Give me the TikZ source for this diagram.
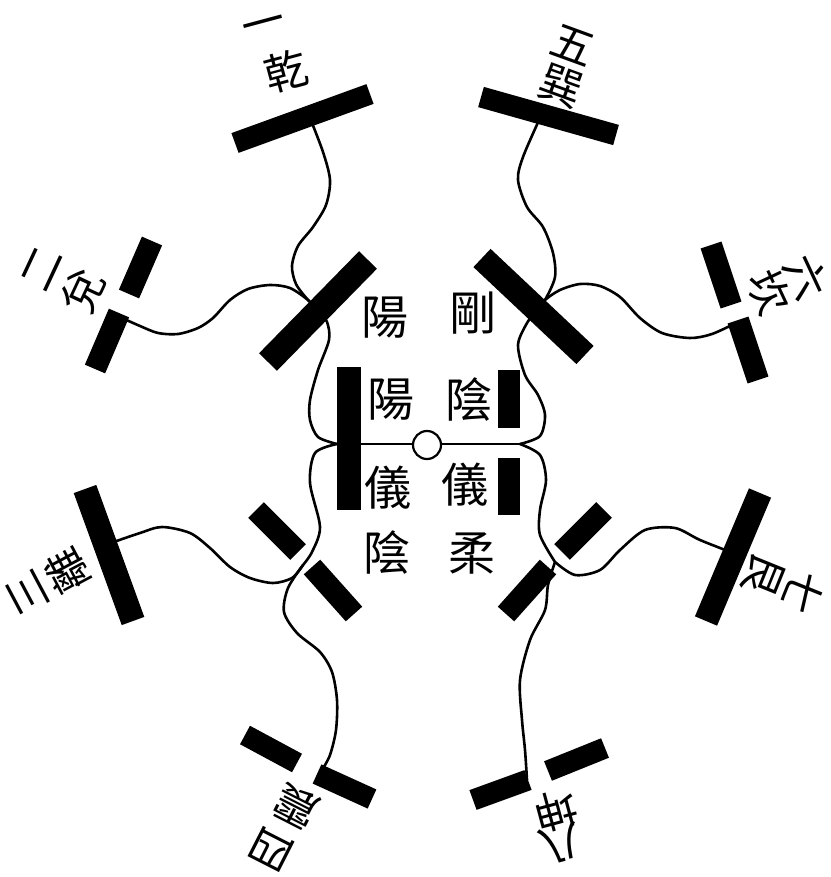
\documentclass[tikz,border=0pt]{standalone}
\usepackage{fontspec}
\newfontfamily\cjk{Noto Sans CJK TC}
\begin{document}
\begin{tikzpicture}[x=1pt,y=-1pt,
  bar/.style={line width=22pt},
  wire/.style={line width=2.6pt, line cap=round, line join=round},
  lab/.style={font=\cjk\fontsize{43}{43}\selectfont, inner sep=0pt},
  mid/.style={font=\cjk\fontsize{47}{47}\selectfont, inner sep=0pt}]
\useasboundingbox[fill=white] (0,0) rectangle (830,877);
% junctions
\coordinate (C) at (427,445);
\coordinate (JL) at (337,444);
\coordinate (JR) at (520,444);
\coordinate (KUL) at (318,310);
\coordinate (KUR) at (536,311);
\coordinate (KLL) at (303,565);
\coordinate (KLR) at (555,562);
\coordinate (TQ) at (310,118);
\coordinate (TX) at (540,118);
\coordinate (TD) at (122,318);
\coordinate (TK) at (738,322);
\coordinate (TL) at (108,544);
\coordinate (TG) at (733,553);
\coordinate (TZ) at (322,770);
\coordinate (TN) at (527,780);
% wires
\draw[wire] (JL) -- (JR);
\draw[wire] plot[smooth] coordinates {(JL) (318,437) (310,420) (310,400) (318,370) (329,340) (327,322) (KUL)};
\draw[wire] plot[smooth] coordinates {(KUL) (308,300) (296,284) (292,266) (298,246) (313,227) (326,205) (330,180) (323,152) (TQ)};
\draw[wire] plot[smooth] coordinates {(KUL) (308,300) (290,288) (270,285) (248,289) (230,300) (213,318) (198,328) (178,334) (158,333) (140,326) (TD)};
\draw[wire] plot[smooth] coordinates {(JL) (315,453) (310,483) (320,527) (312,552) (KLL)};
\draw[wire] plot[smooth] coordinates {(KLL) (292,578) (273,583) (250,578) (230,567) (210,548) (190,533) (162,527) (140,533) (TL)};
\draw[wire] plot[smooth] coordinates {(KLL) (288,588) (284,612) (297,633) (320,652) (332,672) (337,700) (336,730) (330,755) (TZ)};
\draw[wire] plot[smooth] coordinates {(JR) (540,436) (545,415) (538,395) (525,375) (518,345) (527,323) (KUR)};
\draw[wire] plot[smooth] coordinates {(KUR) (545,300) (555,277) (553,253) (543,227) (527,207) (518,180) (523,157) (TX)};
\draw[wire] plot[smooth] coordinates {(KUR) (545,300) (560,290) (580,284) (600,286) (620,297) (640,318) (662,333) (690,338) (712,334) (TK)};
\draw[wire] plot[smooth] coordinates {(JR) (540,455) (546,480) (540,510) (540,535) (KLR)};
\draw[wire] plot[smooth] coordinates {(KLR) (575,575) (600,570) (620,550) (645,530) (675,528) (700,540) (TG)};
\draw[wire] plot[smooth] coordinates {(KLR) (548,585) (545,610) (530,640) (520,680) (522,720) (525,750) (TN)};
% centre circle
\node[circle, draw, fill=white, line width=2.2pt, minimum size=28pt, inner sep=0pt] (O) at (C) {};
% central bars
\coordinate (A1) at (349,367); \coordinate (A2) at (349,510);
\draw[bar, line width=24pt] (A1) -- (A2);
\coordinate (B1) at (509,370); \coordinate (B2) at (509,428);
\coordinate (B3) at (509,458); \coordinate (B4) at (509,515);
\draw[bar] (B1) -- (B2); \draw[bar] (B3) -- (B4);
% second level
\coordinate (U1) at (268,362); \coordinate (U2) at (368,260);
\draw[bar, line width=25pt] (U1) -- (U2);
\coordinate (V1) at (482,258); \coordinate (V2) at (585,355);
\draw[bar, line width=25pt] (V1) -- (V2);
\coordinate (W1) at (256,510); \coordinate (W2) at (298,552);
\coordinate (W3) at (312,567); \coordinate (W4) at (354,614);
\draw[bar] (W1) -- (W2); \draw[bar] (W3) -- (W4);
\coordinate (X1) at (604,510); \coordinate (X2) at (562,552);
\coordinate (X3) at (548,567); \coordinate (X4) at (506,614);
\draw[bar] (X1) -- (X2); \draw[bar] (X3) -- (X4);
% outer bars
\coordinate (Q1) at (235,143); \coordinate (Q2) at (370,94);
\draw[bar, line width=21pt] (Q1) -- (Q2);
\coordinate (S1) at (481,97); \coordinate (S2) at (616,135);
\draw[bar, line width=21pt] (S1) -- (S2);
\coordinate (D1) at (152,241); \coordinate (D2) at (129,294);
\coordinate (D3) at (119,313); \coordinate (D4) at (95,369);
\draw[bar] (D1) -- (D2); \draw[bar] (D3) -- (D4);
\coordinate (K1) at (711,245); \coordinate (K2) at (731,305);
\coordinate (K3) at (738,320); \coordinate (K4) at (758,380);
\draw[bar] (K1) -- (K2); \draw[bar] (K3) -- (K4);
\coordinate (L1) at (85,489); \coordinate (L2) at (133,621);
\draw[bar, line width=24pt] (L1) -- (L2);
\coordinate (G1) at (760,493); \coordinate (G2) at (706,621);
\draw[bar, line width=24pt] (G1) -- (G2);
\coordinate (Z1) at (245,735); \coordinate (Z2) at (297,763);
\coordinate (Z3) at (317,774); \coordinate (Z4) at (372,799);
\draw[bar, line width=21pt] (Z1) -- (Z2); \draw[bar, line width=21pt] (Z3) -- (Z4);
\coordinate (N1) at (473,800); \coordinate (N2) at (528,780);
\coordinate (N3) at (548,771); \coordinate (N4) at (605,748);
\draw[bar, line width=21pt] (N1) -- (N2); \draw[bar, line width=21pt] (N3) -- (N4);
% outer labels
\node[lab, rotate=15] (q0) at (265,29) {一};
\node[lab, rotate=15] (q1) at (286,71) {乾};
\node[lab, rotate=-20] (s0) at (573,45) {五};
\node[lab, rotate=-20] (s1) at (561,86) {巽};
\node[lab, rotate=65] (d0) at (42,269) {二};
\node[lab, rotate=65] (d1) at (83,291) {兌};
\node[lab, rotate=-65] (k0) at (806,277) {六};
\node[lab, rotate=-65] (k1) at (769,292) {坎};
\node[lab, rotate=118] (l0) at (27,593) {三};
\node[lab, rotate=118] (l1) at (67,571) {離};
\node[lab, rotate=-112] (g0) at (803,593) {七};
\node[lab, rotate=-112] (g1) at (764,575) {艮};
\node[lab, rotate=153] (z0) at (271,849) {四};
\node[lab, rotate=153] (z1) at (296,806) {震};
\node[lab, rotate=195] (n0) at (561,843) {八};
\node[lab, rotate=195] (n1) at (556,811) {坤};
% centre labels
\node[mid] (m1) at (385,318) {陽};
\node[mid] (m2) at (473,313) {剛};
\node[mid] (m3) at (391,400) {陽};
\node[mid] (m4) at (469,400) {陰};
\node[mid] (m5) at (388,488) {儀};
\node[mid] (m6) at (465,485) {儀};
\node[mid] (m7) at (387,553) {陰};
\node[mid] (m8) at (472,553) {柔};
\end{tikzpicture}
\end{document}
